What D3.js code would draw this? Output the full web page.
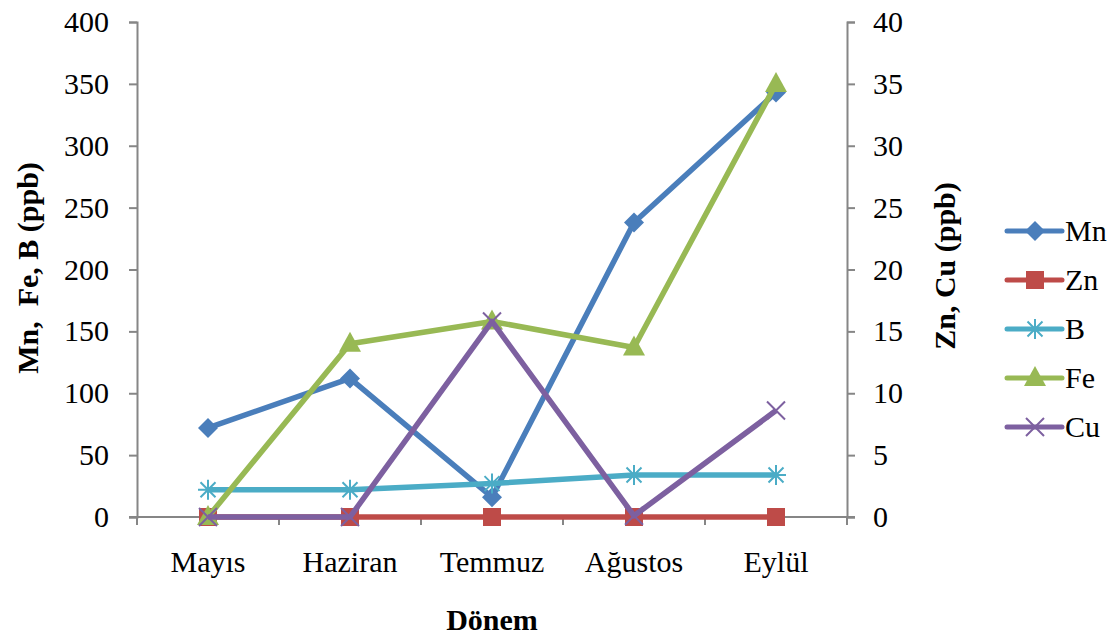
<!DOCTYPE html>
<html>
<head>
<meta charset="utf-8">
<script src="https://cdn.jsdelivr.net/npm/d3@7/dist/d3.min.js"></script>
<style>
  body { margin: 0; background: #fff; }
  text { font-family: "Liberation Serif", "Times New Roman", serif; fill: #000; }
</style>
</head>
<body>
<div id="chart"></div>
<script>
// data
const months = ["Mayıs", "Haziran", "Temmuz", "Ağustos", "Eylül"];
const mn = [72, 112, 16, 238, 343];
const zn = [0, 0, 0, 0, 0];
const b = [22, 22, 27, 34, 34];
const fe = [0, 140, 158, 137, 350];
const cu = [0, 0, 15.8, 0.1, 8.6];
const leftTicks = [0, 50, 100, 150, 200, 250, 300, 350, 400];
const rightTicks = [0, 5, 10, 15, 20, 25, 30, 35, 40];

const series = [
  { name: "Mn", values: mn, axis: "left", color: "#4A7EBB", marker: "diamond" },
  { name: "Zn", values: zn, axis: "right", color: "#BE4B48", marker: "square" },
  { name: "B", values: b, axis: "left", color: "#4BACC6", marker: "star" },
  { name: "Fe", values: fe, axis: "left", color: "#98B954", marker: "triangle" },
  { name: "Cu", values: cu, axis: "right", color: "#7D60A0", marker: "x" }
];

const W = 1116, H = 635;
const plot = { left: 137, right: 847, top: 22, bottom: 517 };
const axisColor = "#868686";
const fontSize = 30;

const svg = d3.select("#chart").append("svg")
  .attr("width", W)
  .attr("height", H);

const x = d3.scaleBand().domain(months).range([plot.left, plot.right]);
const yL = d3.scaleLinear().domain([0, 400]).range([plot.bottom, plot.top]);
const yR = d3.scaleLinear().domain([0, 40]).range([plot.bottom, plot.top]);

// left axis
const leftAxis = svg.append("g")
  .attr("transform", `translate(${plot.left},0)`)
  .call(d3.axisLeft(yL).tickValues(leftTicks).tickSize(8).tickPadding(20));

// right axis
const rightAxis = svg.append("g")
  .attr("transform", `translate(${plot.right},0)`)
  .call(d3.axisRight(yR).tickValues(rightTicks).tickSize(8).tickPadding(18));

// bottom axis: ticks at category boundaries, labels at centers
const xAxis = svg.append("g")
  .attr("transform", `translate(0,${plot.bottom})`)
  .call(d3.axisBottom(x).tickSize(0).tickPadding(34));

const bounds = d3.range(months.length + 1).map(i => plot.left + i * x.step());
xAxis.selectAll(".bound").data(bounds).enter().append("line")
  .attr("class", "bound")
  .attr("x1", d => d).attr("x2", d => d)
  .attr("y1", 0).attr("y2", 8);
xAxis.select(".domain").attr("d", `M${plot.left - 8},0H${plot.right + 8}`);

[leftAxis, rightAxis, xAxis].forEach(g => {
  g.attr("font-family", null);
  g.selectAll(".domain").attr("stroke", axisColor).attr("stroke-width", 2);
  g.selectAll("line").attr("stroke", axisColor).attr("stroke-width", 2);
  g.selectAll("text")
    .attr("font-size", fontSize)
    .attr("fill", "#000");
});

// axis titles
svg.append("text")
  .attr("transform", `translate(38,268) rotate(-90)`)
  .attr("text-anchor", "middle")
  .attr("font-size", fontSize)
  .attr("font-weight", "bold")
  .attr("xml:space", "preserve")
  .text("Mn,  Fe, B (ppb)");

svg.append("text")
  .attr("transform", `translate(955,266) rotate(-90)`)
  .attr("text-anchor", "middle")
  .attr("font-size", fontSize)
  .attr("font-weight", "bold")
  .text("Zn, Cu (ppb)");

svg.append("text")
  .attr("x", (plot.left + plot.right) / 2)
  .attr("y", 630)
  .attr("text-anchor", "middle")
  .attr("font-size", fontSize)
  .attr("font-weight", "bold")
  .text("Dönem");

// marker drawing
function drawMarker(g, type, color) {
  if (type === "diamond") {
    g.append("path").attr("d", "M0,-10L10,0L0,10L-10,0Z").attr("fill", color);
  } else if (type === "square") {
    g.append("rect").attr("x", -9).attr("y", -9).attr("width", 18).attr("height", 18).attr("fill", color);
  } else if (type === "triangle") {
    g.append("path").attr("d", "M0,-12L11,8L-11,8Z").attr("fill", color);
  } else if (type === "star") {
    const r = 10;
    const p = `M${-r},0H${r}M0,${-r}V${r}M${-r * 0.75},${-r * 0.75}L${r * 0.75},${r * 0.75}M${-r * 0.75},${r * 0.75}L${r * 0.75},${-r * 0.75}`;
    g.append("path").attr("d", p).attr("stroke", color).attr("stroke-width", 2).attr("fill", "none");
  } else if (type === "x") {
    const r = 9;
    g.append("path").attr("d", `M${-r},${-r}L${r},${r}M${-r},${r}L${r},${-r}`)
      .attr("stroke", color).attr("stroke-width", 2).attr("fill", "none");
  }
}

// series lines + markers
series.forEach(s => {
  const y = s.axis === "left" ? yL : yR;
  const line = d3.line()
    .x((d, i) => x(months[i]) + x.bandwidth() / 2)
    .y(d => y(d));
  const g = svg.append("g");
  g.append("path")
    .datum(s.values)
    .attr("d", line)
    .attr("fill", "none")
    .attr("stroke", s.color)
    .attr("stroke-width", 5.5)
    .attr("stroke-linejoin", "round");
  s.values.forEach((v, i) => {
    const m = g.append("g")
      .attr("transform", `translate(${x(months[i]) + x.bandwidth() / 2},${y(v)})`);
    drawMarker(m, s.marker, s.color);
  });
});

// legend
const legend = svg.append("g").attr("transform", "translate(1007,231)");
const rows = legend.selectAll("g").data(series).enter().append("g")
  .attr("transform", (d, i) => `translate(0,${i * 49})`);
rows.append("line")
  .attr("x1", 0).attr("x2", 55)
  .attr("stroke", d => d.color)
  .attr("stroke-width", 5)
  .attr("stroke-linecap", "round");
rows.each(function (d) {
  const m = d3.select(this).append("g").attr("transform", "translate(28,0)");
  drawMarker(m, d.marker, d.color);
});
rows.append("text")
  .attr("x", 58)
  .attr("y", 10)
  .attr("font-size", fontSize)
  .text(d => d.name);
</script>
</body>
</html>
